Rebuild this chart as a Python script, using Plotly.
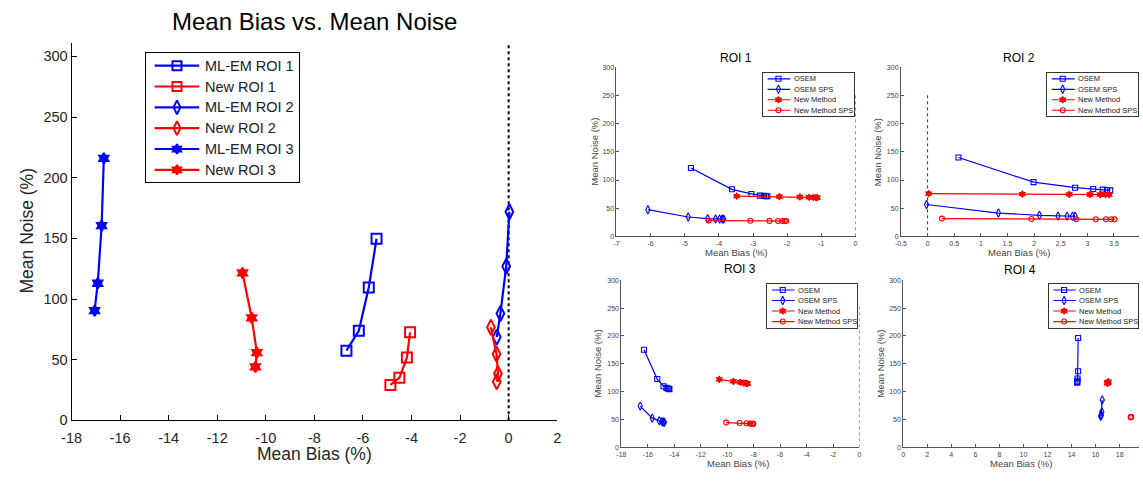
import plotly.graph_objects as go

W, H = 1143, 481
BLUE = "#0000ff"
RED = "#ff0000"

# ---------------- Main panel data ----------------
main_title = "Mean Bias vs. Mean Noise"
main_labels = ["ML-EM ROI 1", "New ROI 1", "ML-EM ROI 2", "New ROI 2", "ML-EM ROI 3", "New ROI 3"]
mlem_roi1_x = [-6.68, -6.17, -5.76, -5.44]
mlem_roi1_y = [57.4, 73.8, 109.5, 149.7]
new_roi1_x = [-4.87, -4.50, -4.19, -4.06]
new_roi1_y = [29.2, 35.1, 51.7, 72.6]
mlem_roi2_x = [-0.49, -0.34, -0.10, 0.03]
mlem_roi2_y = [68.6, 88.0, 126.9, 171.9]
new_roi2_x = [-0.73, -0.50, -0.44, -0.49]
new_roi2_y = [76.7, 54.7, 38.4, 31.9]
mlem_roi3_x = [-17.05, -16.92, -16.76, -16.67]
mlem_roi3_y = [90.4, 113.0, 160.4, 216.0]
new_roi3_x = [-10.96, -10.58, -10.37, -10.43]
new_roi3_y = [121.5, 84.5, 55.8, 44.0]
main_xticks = [-18, -16, -14, -12, -10, -8, -6, -4, -2, 0, 2]
main_xticklabels = ["-18", "-16", "-14", "-12", "-10", "-8", "-6", "-4", "-2", "0", "2"]
main_yticks = [0, 50, 100, 150, 200, 250, 300]
main_yticklabels = ["0", "50", "100", "150", "200", "250", "300"]
main_ref_x = 0
main_ref_top = 311

# ---------------- Small panels data ----------------
sub_titles = ["ROI 1", "ROI 2", "ROI 3", "ROI 4"]
sub_labels = ["OSEM", "OSEM SPS", "New Method", "New Method SPS"]

roi1_osem_x = [-4.82, -3.62, -3.05, -2.80, -2.68, -2.62, -2.58]
roi1_osem_y = [121.4, 83.5, 75.3, 72.4, 71.8, 71.5, 71.3]
roi1_osem_sps_x = [-6.08, -4.90, -4.33, -4.10, -3.98, -3.90, -3.86]
roi1_osem_sps_y = [47.3, 34.4, 31.5, 30.9, 30.8, 30.7, 30.6]
roi1_new_x = [-3.48, -2.23, -1.63, -1.36, -1.23, -1.16, -1.12]
roi1_new_y = [71.5, 70.5, 70.0, 69.5, 69.2, 69.0, 68.8]
roi1_new_sps_x = [-4.30, -3.08, -2.52, -2.27, -2.14, -2.07, -2.03]
roi1_new_sps_y = [28.0, 27.6, 27.4, 27.3, 27.2, 27.2, 27.1]

roi2_osem_x = [0.58, 1.99, 2.77, 3.11, 3.29, 3.37, 3.43]
roi2_osem_y = [140.0, 96.3, 86.4, 84.0, 82.9, 82.3, 81.7]
roi2_osem_sps_x = [-0.02, 1.33, 2.10, 2.45, 2.62, 2.72, 2.77]
roi2_osem_sps_y = [56.6, 41.4, 37.4, 36.2, 36.0, 35.8, 35.7]
roi2_new_x = [0.02, 1.78, 2.66, 3.05, 3.24, 3.34, 3.41]
roi2_new_y = [75.9, 75.0, 74.6, 74.3, 74.2, 74.1, 74.0]
roi2_new_sps_x = [0.27, 1.95, 2.79, 3.16, 3.35, 3.45, 3.51]
roi2_new_sps_y = [31.5, 30.8, 30.5, 30.4, 30.3, 30.3, 30.2]

roi3_osem_x = [-16.29, -15.29, -14.82, -14.60, -14.50, -14.42, -14.37]
roi3_osem_y = [175.1, 122.6, 109.7, 106.8, 105.7, 105.1, 104.5]
roi3_osem_sps_x = [-16.58, -15.67, -15.14, -14.95, -14.85, -14.79, -14.75]
roi3_osem_sps_y = [74.1, 52.5, 47.9, 46.1, 45.5, 45.2, 45.0]
roi3_new_x = [-10.60, -9.53, -9.01, -8.74, -8.59, -8.52, -8.47]
roi3_new_y = [122.0, 118.5, 116.8, 115.6, 115.0, 114.7, 114.5]
roi3_new_sps_x = [-10.08, -9.06, -8.54, -8.29, -8.14, -8.07, -8.03]
roi3_new_sps_y = [44.4, 43.8, 43.2, 42.6, 42.4, 42.2, 42.1]

roi4_osem_x = [14.55, 14.55, 14.50, 14.48, 14.47, 14.47]
roi4_osem_y = [196.3, 136.5, 123.6, 119.5, 117.2, 116.0]
roi4_osem_sps_x = [16.55, 16.52, 16.47, 16.44, 16.43]
roi4_osem_sps_y = [85.0, 63.9, 58.6, 56.8, 55.7]
roi4_new_x = [17.05, 17.02, 17.00, 16.99, 16.98]
roi4_new_y = [118.0, 116.5, 115.8, 115.4, 115.2]
roi4_new_sps_x = [18.95, 18.94, 18.93, 18.93]
roi4_new_sps_y = [55.0, 54.5, 54.2, 54.0]

sub_yticks = [0, 50, 100, 150, 200, 250, 300]
sub_yticklabels = ["0", "50", "100", "150", "200", "250", "300"]
roi1_xticks = [-7, -6, -5, -4, -3, -2, -1, 0]
roi1_xticklabels = ["-7", "-6", "-5", "-4", "-3", "-2", "-1", "0"]
roi2_xticks = [-0.5, 0, 0.5, 1, 1.5, 2, 2.5, 3, 3.5]
roi2_xticklabels = ["-0.5", "0", "0.5", "1", "1.5", "2", "2.5", "3", "3.5"]
roi3_xticks = [-18, -16, -14, -12, -10, -8, -6, -4, -2, 0]
roi3_xticklabels = ["-18", "-16", "-14", "-12", "-10", "-8", "-6", "-4", "-2", "0"]
roi4_xticks = [0, 2, 4, 6, 8, 10, 12, 14, 16, 18]
roi4_xticklabels = ["0", "2", "4", "6", "8", "10", "12", "14", "16", "18"]
sub_ref_top = 255

# ---------------- helpers ----------------
FONT = "Liberation Sans, Arial, sans-serif"


def fx(p):
    return p / W


def fy(p):
    return 1 - p / H


fig = go.Figure()
annotations = []
shapes = []

# ---------------- main panel traces ----------------
main_series = [
    (mlem_roi1_x, mlem_roi1_y, BLUE, "square-open", 10),
    (new_roi1_x, new_roi1_y, RED, "square-open", 10),
    (mlem_roi2_x, mlem_roi2_y, BLUE, "diamond-tall-open", 11),
    (new_roi2_x, new_roi2_y, RED, "diamond-tall-open", 11),
    (mlem_roi3_x, mlem_roi3_y, BLUE, "hexagram", 8),
    (new_roi3_x, new_roi3_y, RED, "hexagram", 8),
]
for (xs, ys, c, sym, sz), name in zip(main_series, main_labels):
    fig.add_trace(go.Scatter(
        x=xs, y=ys, mode="lines+markers", name=name, showlegend=False,
        line=dict(color=c, width=2.2),
        marker=dict(symbol=sym, size=sz, color=c, line=dict(color=c, width=2)),
        xaxis="x", yaxis="y"))

shapes.append(dict(type="line", xref="x", yref="y", x0=main_ref_x, x1=main_ref_x,
                   y0=0, y1=main_ref_top, line=dict(color="black", width=2, dash="dot"),
                   layer="below"))

# ---------------- small panels ----------------
panels = [
    dict(ax=2, data=[(roi1_osem_x, roi1_osem_y), (roi1_osem_sps_x, roi1_osem_sps_y),
                     (roi1_new_x, roi1_new_y), (roi1_new_sps_x, roi1_new_sps_y)],
         xd=(614, 856), yd=(65, 238.3), xr=[-7, 0], xt=roi1_xticks, xtl=roi1_xticklabels,
         title_xy=(735, 55), xtitle_xy=(735, 255), ytitle_xy=(592, 151.7),
         legend_box=(762.3, 70.7, 854, 115.3), ref=True),
    dict(ax=3, data=[(roi2_osem_x, roi2_osem_y), (roi2_osem_sps_x, roi2_osem_sps_y),
                     (roi2_new_x, roi2_new_y), (roi2_new_sps_x, roi2_new_sps_y)],
         xd=(902, 1143), yd=(65, 238.3), xr=[-0.5, 3.97], xt=roi2_xticks, xtl=roi2_xticklabels,
         title_xy=(1022, 55), xtitle_xy=(1022, 255), ytitle_xy=(879, 151.7),
         legend_box=(1050, 70.7, 1142, 115.3), ref=True),
    dict(ax=4, data=[(roi3_osem_x, roi3_osem_y), (roi3_osem_sps_x, roi3_osem_sps_y),
                     (roi3_new_x, roi3_new_y), (roi3_new_sps_x, roi3_new_sps_y)],
         xd=(619, 860), yd=(283.3, 454.7), xr=[-18, 0], xt=roi3_xticks, xtl=roi3_xticklabels,
         title_xy=(739, 272), xtitle_xy=(737, 471.7), ytitle_xy=(595, 369),
         legend_box=(766.7, 287.3, 858, 332), ref=True),
    dict(ax=5, data=[(roi4_osem_x, roi4_osem_y), (roi4_osem_sps_x, roi4_osem_sps_y),
                     (roi4_new_x, roi4_new_y), (roi4_new_sps_x, roi4_new_sps_y)],
         xd=(904.3, 1143), yd=(283.3, 454.7), xr=[0, 19.61], xt=roi4_xticks, xtl=roi4_xticklabels,
         title_xy=(1023, 273), xtitle_xy=(1024, 471.7), ytitle_xy=(881.7, 369),
         legend_box=(1051.7, 287.3, 1142, 332), ref=False),
]

sub_styles = [
    (BLUE, "square-open", 5),
    (BLUE, "diamond-tall-open", 6),
    (RED, "hexagram", 5),
    (RED, "circle-open", 5),
]

layout_axes = {}


def base_axis(**kw):
    d = dict(showgrid=False, zeroline=False, showline=True, ticks="inside",
             fixedrange=True)
    d.update(kw)
    return d


layout_axes["xaxis"] = base_axis(
    domain=[fx(62.3), fx(554)], range=[-18, 2], anchor="y",
    tickvals=main_xticks, ticktext=main_xticklabels, ticklen=5,
    linecolor="black", linewidth=1, tickcolor="black", ticklabelstandoff=4,
    tickfont=dict(family=FONT, size=14.5, color="#262626"))
layout_axes["yaxis"] = base_axis(
    domain=[fy(427), fy(40)], range=[0, main_ref_top], anchor="x",
    tickvals=main_yticks, ticktext=main_yticklabels, ticklen=5,
    linecolor="black", linewidth=1, tickcolor="black",
    tickfont=dict(family=FONT, size=14.5, color="#262626"))

annotations.append(dict(text=main_title, x=fx(308), y=fy(18), xref="paper", yref="paper",
                        showarrow=False, xanchor="center", yanchor="middle",
                        font=dict(family=FONT, size=24, color="black")))
annotations.append(dict(text="Mean Bias (%)", x=fx(308), y=fy(461.5), xref="paper", yref="paper",
                        showarrow=False, xanchor="center", yanchor="middle",
                        font=dict(family=FONT, size=17.5, color="#262626")))
annotations.append(dict(text="Mean Noise (%)", x=fx(17.5), y=fy(233), xref="paper", yref="paper",
                        showarrow=False, xanchor="center", yanchor="middle", textangle=-90,
                        font=dict(family=FONT, size=17.5, color="#262626")))

for p in panels:
    n = p["ax"]
    xa, ya = f"x{n}", f"y{n}"
    for (xs, ys), (c, sym, sz), name in zip(p["data"], sub_styles, sub_labels):
        fig.add_trace(go.Scatter(
            x=xs, y=ys, mode="lines+markers", name=name, showlegend=False,
            line=dict(color=c, width=1.2),
            marker=dict(symbol=sym, size=sz, color=c, line=dict(color=c, width=1.1)),
            xaxis=xa, yaxis=ya))
    layout_axes[f"xaxis{n}"] = base_axis(
        domain=[fx(p["xd"][0]), fx(p["xd"][1])], range=p["xr"], anchor=ya,
        tickvals=p["xt"], ticktext=p["xtl"], ticklen=3,
        linecolor="#555555", linewidth=1, tickcolor="#555555",
        tickfont=dict(family=FONT, size=7, color="#444444"))
    layout_axes[f"yaxis{n}"] = base_axis(
        domain=[fy(p["yd"][1]), fy(p["yd"][0])], range=[0, 300], anchor=xa,
        tickvals=sub_yticks, ticktext=sub_yticklabels, ticklen=3,
        linecolor="#555555", linewidth=1, tickcolor="#555555",
        tickfont=dict(family=FONT, size=7, color="#444444"))
    if p["ref"]:
        shapes.append(dict(type="line", xref=xa, yref=ya, x0=0, x1=0, y0=0, y1=sub_ref_top,
                           line=dict(color="#333333", width=1, dash="dot"), layer="below"))
    t = p["title_xy"]
    annotations.append(dict(text=sub_titles[n - 2], x=fx(t[0]), y=fy(t[1]), xref="paper",
                            yref="paper", showarrow=False, xanchor="center", yanchor="middle",
                            font=dict(family=FONT, size=12, color="black")))
    t = p["xtitle_xy"]
    annotations.append(dict(text="Mean Bias (%)", x=fx(t[0]), y=fy(t[1]), xref="paper",
                            yref="paper", showarrow=False, xanchor="center", yanchor="middle",
                            font=dict(family=FONT, size=9.5, color="#444444")))
    t = p["ytitle_xy"]
    annotations.append(dict(text="Mean Noise (%)", x=fx(t[0]), y=fy(t[1]), xref="paper",
                            yref="paper", showarrow=False, xanchor="center", yanchor="middle",
                            textangle=-90, font=dict(family=FONT, size=9.5, color="#444444")))


# ---------------- legends (drawn on their own small axes) ----------------
def add_legend(idx, box, labels, styles, line_w, mk_scale, font_size, rows, lx0, lx1, mx, tx,
               border):
    xa, ya = f"x{idx}", f"y{idx}"
    layout_axes[f"xaxis{idx}"] = dict(domain=[fx(box[0]), fx(box[2])], range=[0, 1], anchor=ya,
                                      showgrid=False, zeroline=False, showticklabels=False,
                                      ticks="", showline=True, mirror=True, linecolor=border,
                                      linewidth=1, fixedrange=True)
    layout_axes[f"yaxis{idx}"] = dict(domain=[fy(box[3]), fy(box[1])], range=[0, 1], anchor=xa,
                                      showgrid=False, zeroline=False, showticklabels=False,
                                      ticks="", showline=True, mirror=True, linecolor=border,
                                      linewidth=1, fixedrange=True)
    for i, (lab, (c, sym, sz)) in enumerate(zip(labels, styles)):
        yv = rows[i]
        fig.add_trace(go.Scatter(x=[lx0, lx1], y=[yv, yv], mode="lines", showlegend=False,
                                 line=dict(color=c, width=line_w), xaxis=xa, yaxis=ya,
                                 hoverinfo="skip"))
        fig.add_trace(go.Scatter(x=[mx], y=[yv], mode="markers", showlegend=False,
                                 marker=dict(symbol=sym, size=sz * mk_scale, color=c,
                                             line=dict(color=c, width=line_w * 0.9)),
                                 xaxis=xa, yaxis=ya, hoverinfo="skip"))
        annotations.append(dict(text=lab, x=tx, y=yv, xref=xa, yref=ya, showarrow=False,
                                xanchor="left", yanchor="middle",
                                font=dict(family=FONT, size=font_size, color="#222222")))


main_styles = [(c, sym, sz) for (_, _, c, sym, sz) in main_series]
add_legend(6, (137.4, 50, 292.5, 182.7), main_labels, main_styles, 2.2, 0.9, 14.5,
           [0.90 - i * 0.161 for i in range(6)], 0.058, 0.349, 0.204, 0.372, "black")
for k, p in enumerate(panels):
    add_legend(7 + k, p["legend_box"], sub_labels, sub_styles, 1.2, 1.0, 7.5,
               [0.865 - i * 0.241 for i in range(4)], 0.051, 0.302, 0.171, 0.318, "#333333")

fig.update_layout(
    width=W, height=H,
    margin=dict(l=0, r=0, t=0, b=0),
    paper_bgcolor="white", plot_bgcolor="white",
    showlegend=False,
    annotations=annotations,
    shapes=shapes,
    font=dict(family=FONT),
    **layout_axes,
)

fig.write_html("out.html")
